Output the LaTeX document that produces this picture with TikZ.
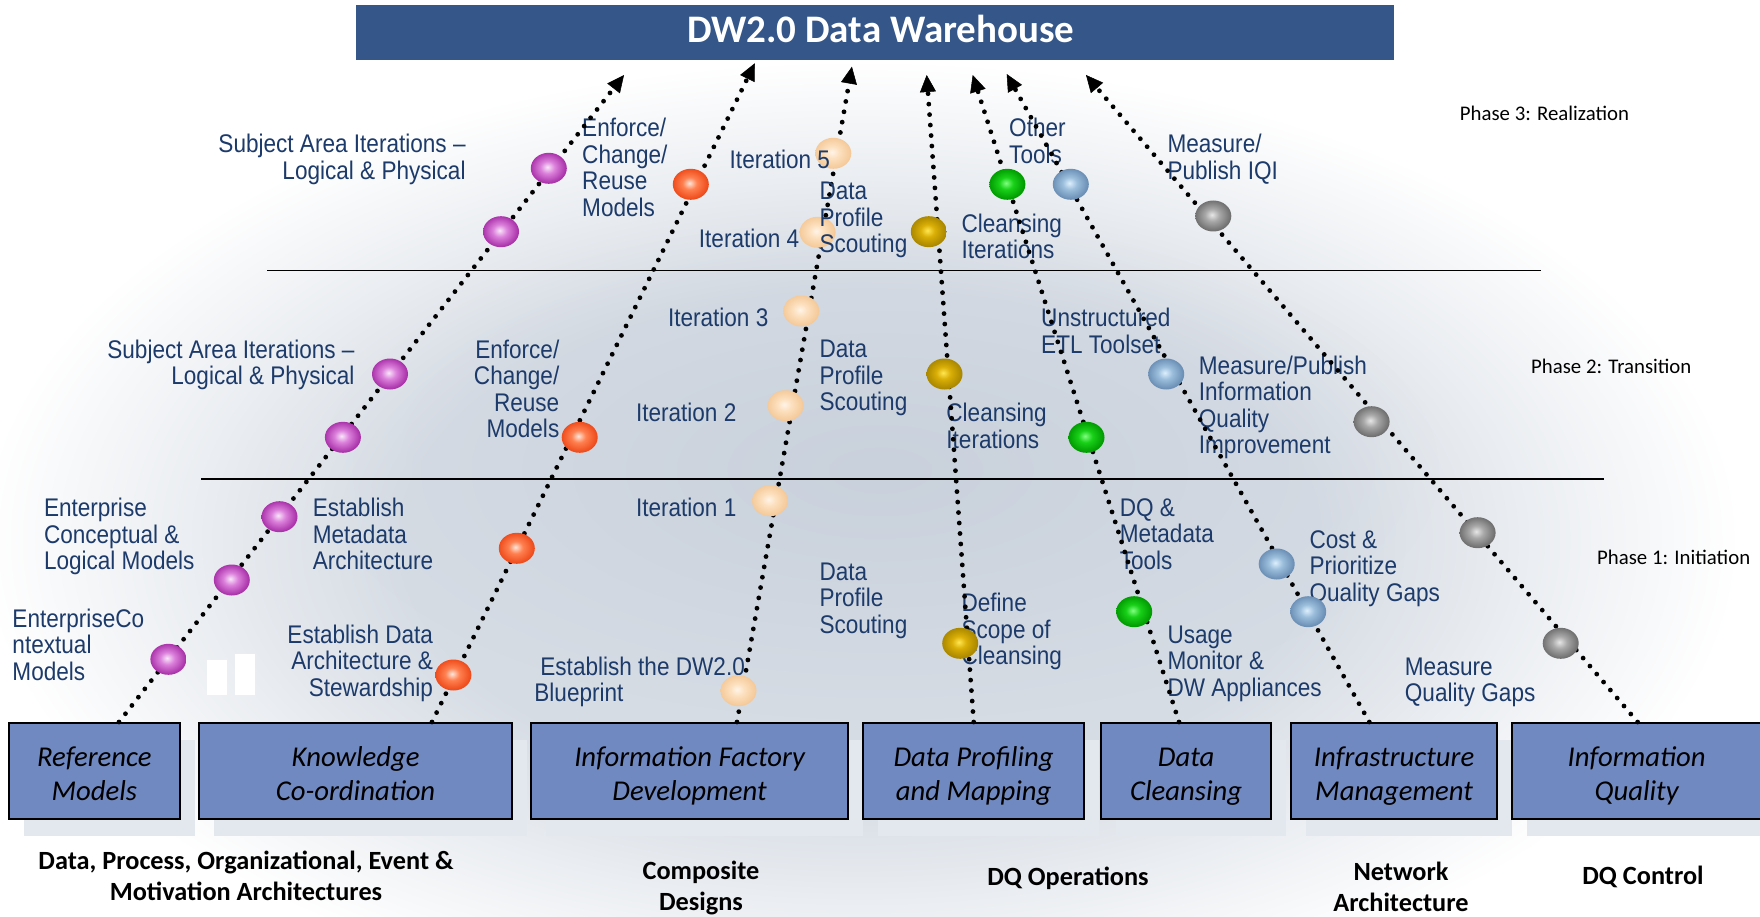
\documentclass[tikz,border=0pt]{standalone}
\usepackage{fontspec}
\setmainfont{Carlito}
\newfontfamily\lblfont[FakeStretch=0.885]{Liberation Sans}
\usetikzlibrary{arrows.meta,shapes.geometric,shadows,fadings}

\definecolor{titleblue}{HTML}{355689}
\definecolor{boxblue}{HTML}{7189C1}
\definecolor{shadowc}{HTML}{E3E7EE}
\definecolor{lblblue}{HTML}{1C3A6A}
\definecolor{bgc}{HTML}{D6DCE4}
\definecolor{bgd}{HTML}{C9D1DC}

\definecolor{puhi}{HTML}{F9E6F9}\definecolor{pumid}{HTML}{DB80DB}\definecolor{puedge}{HTML}{A830A8}
\definecolor{orhi}{HTML}{FFE6DA}\definecolor{ormid}{HTML}{FF8050}\definecolor{oredge}{HTML}{EE4A1A}
\definecolor{pehi}{HTML}{FFF4E8}\definecolor{pemid}{HTML}{FCE0BE}\definecolor{peedge}{HTML}{F4C998}
\definecolor{gohi}{HTML}{FFE650}\definecolor{gomid}{HTML}{D9AE06}\definecolor{goedge}{HTML}{A88600}
\definecolor{grhi}{HTML}{80FF80}\definecolor{grmid}{HTML}{18D018}\definecolor{gredge}{HTML}{009A00}
\definecolor{blhi}{HTML}{DDEFFC}\definecolor{blmid}{HTML}{9BBEDC}\definecolor{bledge}{HTML}{6A8EB4}
\definecolor{gyhi}{HTML}{E6E6E6}\definecolor{gymid}{HTML}{A8A8A8}\definecolor{gyedge}{HTML}{6E6E6E}

\newcommand\mkballshading[4]{\pgfdeclareradialshading{#1}{\pgfpoint{-2bp}{2bp}}{color(0bp)=(#2); color(10bp)=(#3); color(25bp)=(#4); color(50bp)=(#4)}}
\mkballshading{shpu}{puhi}{pumid}{puedge}
\mkballshading{shor}{orhi}{ormid}{oredge}
\mkballshading{shpe}{pehi}{pemid}{peedge}
\mkballshading{shgo}{gohi}{gomid}{goedge}
\mkballshading{shgr}{grhi}{grmid}{gredge}
\mkballshading{shbl}{blhi}{blmid}{bledge}
\mkballshading{shgy}{gyhi}{gymid}{gyedge}
\pgfdeclareradialshading{bgshade}{\pgfpointorigin}{color(0bp)=(bgc); color(13bp)=(bgc); color(25bp)=(white); color(50bp)=(white)}
\tikzfading[name=softblob, inner color=transparent!0, outer color=transparent!100]

% two-line box caption with struts that fix its baselines
\newcommand\twolines[2]{\rule{0pt}{32pt}#1\\#2\rule[-8pt]{0pt}{8pt}}

\begin{document}
\begin{tikzpicture}[x=1pt,y=-1pt,
  ball/.style={ellipse, minimum width=36pt, minimum height=31pt, inner sep=0pt, shading=sh#1},
  dotline/.style={line width=4.8pt, line cap=round, dash pattern=on 0pt off 10.5pt,
    -{Triangle[length=17pt,width=16pt,line width=0.5pt]}},
  bbox/.style={draw=black, line width=2.2pt, fill=boxblue, inner sep=0pt, anchor=north west,
    minimum height=96pt, align=center, font=\fontsize{28.7pt}{34pt}\selectfont\itshape,
    drop shadow={shadow xshift=15pt, shadow yshift=-17pt, fill=shadowc, opacity=1}},
  lbl/.style={font=\lblfont\fontsize{25.5pt}{26.5pt}\selectfont, text=lblblue, inner sep=0pt,
    align=left, anchor=base west, yshift={(1-#1)*26.5pt}},
  lbl/.default=1,
  lblr/.style={lbl=#1, align=right, anchor=base east},
  lblr/.default=1,
  botlbl/.style={font=\fontsize{26.3pt}{31pt}\selectfont\bfseries, inner sep=0pt, align=center, anchor=base},
  phase/.style={font=\fontsize{20.8pt}{24pt}\selectfont, inner sep=0pt, anchor=base west}
]
\useasboundingbox (0,0) rectangle (1760,917);
% background
\fill[white] (0,0) rectangle (1760,917);
\shade[shading=bgshade] (860,540) ellipse (880 and 480);
\fill[bgd, path fading=softblob] (880,470) ellipse (560 and 250);
\fill[white] (206.5,660) rectangle (227,695);
\fill[white] (234.6,654) rectangle (255,695);

% phase separators
\draw[line width=1.8pt] (267,270.5) -- (1541,270.5);
\draw[line width=1.8pt] (201,479) -- (1604,479);

% title
\node[fill=titleblue, minimum width=1038pt, minimum height=55pt, inner sep=0pt, anchor=north west,
  text=white, font=\fontsize{39pt}{41pt}\selectfont\bfseries, text height=26pt, text depth=6pt]
  (dw) at (356,5) {\hspace*{11pt}DW2.0 Data Warehouse};

% bottom boxes
\node[bbox, minimum width=170.5pt] (rm)  at (8,722)    {\twolines{Reference}{Models}};
\node[bbox, minimum width=313pt]   (kc)  at (198,722)  {\twolines{Knowledge}{Co-ordination}};
\node[bbox, minimum width=317pt]   (ifd) at (530,722)  {\twolines{Information Factory}{Development}};
\node[bbox, minimum width=221pt]   (dpm) at (862,722)  {\twolines{Data Profiling}{and Mapping}};
\node[bbox, minimum width=170pt]   (dc)  at (1100,722) {\twolines{Data}{Cleansing}};
\node[bbox, minimum width=206pt]   (im)  at (1290,722) {\twolines{Infrastructure}{Management}};
\node[bbox, minimum width=249pt]   (iq)  at (1511,722) {\twolines{Information}{Quality}};

% bottom captions (anchored at the baseline of their last line)
\node[botlbl] (c1) at (246,900.7) {Data, Process, Organizational, Event \&\\Motivation Architectures};
\node[botlbl] (c2) at (701,910.7) {Composite\\Designs};
\node[botlbl] (c3) at (1068,885) {DQ Operations};
\node[botlbl] (c4) at (1401,911.5) {Network\\Architecture};
\node[botlbl] (c5) at (1643,884.5) {DQ Control};

% phase labels
\node[phase] (p3) at (1459.7,120.7) {Phase 3: Realization};
\node[phase] (p2) at (1531,373) {Phase 2: Transition};
\node[phase] (p1) at (1597,564) {Phase 1: Initiation};

% blue labels (position = baseline of first line)
\node[lblr=2] (t1)  at (465.8,152.7) {Subject Area Iterations –\\Logical \& Physical};
\node[lbl=4]  (t2)  at (582,136.7)   {Enforce/\\Change/\\Reuse\\Models};
\node[lbl]    (t5)  at (698.7,247.3) {Iteration 4};
\node[lbl]    (t6)  at (667.8,326)   {Iteration 3};
\node[lblr=2] (t7)  at (354.7,358.3) {Subject Area Iterations –\\Logical \& Physical};
\node[lblr=4] (t8)  at (559.5,358.3) {Enforce/\\Change/\\Reuse\\Models};
\node[lbl]    (t9)  at (635.8,421)   {Iteration 2};
\node[lbl=3]  (t10) at (819.3,357.7) {Data\\Profile\\Scouting};
\node[lbl=2]  (t11) at (1009,136.7)  {Other\\Tools};
\node[lbl=2]  (t12) at (1167.3,152.7) {Measure/\\Publish IQI};
\node[lbl=2]  (t13) at (961.4,232.3) {Cleansing\\Iterations};
\node[lbl=2]  (t14) at (1041,326.7)  {Unstructured\\ETL Toolset};
\node[lbl=4]  (t15) at (1198.7,374)  {Measure/Publish\\Information\\Quality\\Improvement};
\node[lbl=2]  (t16) at (946.2,421.7) {Cleansing\\Iterations};
\node[lbl=3]  (t17) at (43.8,516.7)  {Enterprise\\Conceptual \&\\Logical Models};
\node[lbl=3]  (t18) at (312.6,516.7) {Establish\\Metadata\\Architecture};
\node[lbl]    (t19) at (635.8,516.7) {Iteration 1};
\node[lbl=3]  (t20) at (12.3,627.3)  {EnterpriseCo\\ntextual\\Models};
\node[lblr=3] (t21) at (433.2,643.3) {Establish Data\\Architecture \&\\Stewardship};
\node[lbl=2]  (t22) at (534.2,675)   {\hspace*{6pt}Establish the DW2.0\\Blueprint};
\node[lbl=3]  (t23) at (819.3,580)   {Data\\Profile\\Scouting};
\node[lbl=3]  (t24) at (1119.6,516)  {DQ \&\\Metadata\\Tools};
\node[lbl=3]  (t25) at (1309.3,548.3) {Cost \&\\Prioritize\\Quality Gaps};
\node[lbl=3]  (t26) at (961.4,611.7) {Define\\Scope of\\Cleansing};
\node[lbl=3]  (t27) at (1167.3,643.3) {Usage\\Monitor \&\\DW Appliances};
\node[lbl=2]  (t28) at (1404.7,675)  {Measure\\Quality Gaps};

% dotted arrows: start on box tops, free ends below the warehouse
\coordinate (sA) at (119,722);    \coordinate (eA) at (624,75);
\coordinate (sB) at (432,722);    \coordinate (eB) at (754.8,63.3);
\coordinate (sC) at (737,722);    \coordinate (eC) at (851.9,66.7);
\coordinate (sD) at (973.7,722);  \coordinate (eD) at (926.7,75);
\coordinate (sE) at (1179,722);   \coordinate (eE) at (972.7,75);
\coordinate (sF) at (1369.3,722); \coordinate (eF) at (1006.7,74);
\coordinate (sG) at (1637.6,722); \coordinate (eG) at (1086,75);
\foreach \k in {A,B,C,D,E,F,G} {\draw[dotline] (s\k) -- (e\k);}

% balls
\node[ball=pu] (a1) at (168.4,659.3) {};
\node[ball=pu] (a2) at (231.8,580) {};
\node[ball=pu] (a3) at (279.5,516.7) {};
\node[ball=pu] (a4) at (342.9,437.3) {};
\node[ball=pu] (a5) at (390,374) {};
\node[ball=pu] (a6) at (501,231.7) {};
\node[ball=pu] (a7) at (548.8,168.3) {};
\node[ball=or] (b1) at (453.4,675) {};
\node[ball=or] (b2) at (516.8,548.3) {};
\node[ball=or] (b3) at (579.7,437.3) {};
\node[ball=or] (b4) at (690.8,184.3) {};
\node[ball=pe] (c1b) at (738.5,690.7) {};
\node[ball=pe] (c2b) at (770,500.7) {};
\node[ball=pe] (c3b) at (785.6,405.7) {};
\node[ball=pe] (c4b) at (801.3,311) {};
\node[ball=pe] (c5b) at (817.6,232.3) {};
\node[ball=pe] (c6b) at (833.3,153.3) {};
\node[ball=go] (d1) at (960.2,643.3) {};
\node[ball=go] (d2) at (944.5,374) {};
\node[ball=go] (d3) at (928.8,231.7) {};
\node[ball=gr] (e1) at (1134.2,611.7) {};
\node[ball=gr] (e2) at (1086.5,437.3) {};
\node[ball=gr] (e3) at (1007.4,184.3) {};
\node[ball=bl] (f1) at (1308.2,611.7) {};
\node[ball=bl] (f2) at (1276.7,564) {};
\node[ball=bl] (f3) at (1166.2,374) {};
\node[ball=bl] (f4) at (1070.8,184.3) {};
\node[ball=gy] (g1) at (1560.7,643.3) {};
\node[ball=gy] (g2) at (1477.6,532.7) {};
\node[ball=gy] (g3) at (1371.6,421.7) {};
\node[ball=gy] (g4) at (1213.3,216) {};

% labels printed over their balls
\node[lbl]    (t3)  at (729.5,168.3) {Iteration 5};
\node[lbl=3]  (t4)  at (819.3,200)   {Data\\Profile\\Scouting};
\end{tikzpicture}
\end{document}
